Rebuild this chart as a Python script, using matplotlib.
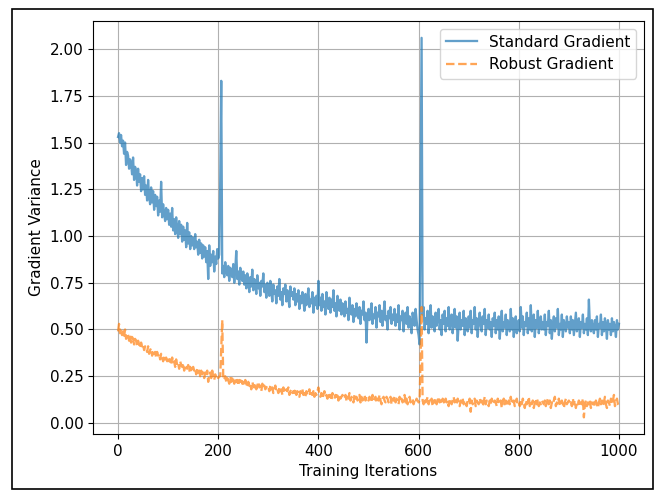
import matplotlib
matplotlib.use("Agg")
import matplotlib.pyplot as plt
from matplotlib.patches import Rectangle

plt.rcParams['font.size'] = 11
plt.rcParams['lines.linewidth'] = 1.65

# Iterations sampled every 2 steps, 0..1000
iterations = list(range(0, 1001, 2))

standard_grad = [
    1.53, 1.55, 1.50, 1.54, 1.48, 1.51, 1.44, 1.50, 1.38, 1.45, 1.43, 1.36, 1.41, 1.39, 1.33, 1.42, 1.30, 1.37, 1.35, 1.27, 1.36, 1.29, 1.33, 1.24, 1.31,
    1.25, 1.32, 1.22, 1.27, 1.19, 1.30, 1.21, 1.17, 1.26, 1.18, 1.24, 1.14, 1.22, 1.16, 1.21, 1.11, 1.19, 1.13, 1.29, 1.10, 1.17, 1.12, 1.08, 1.15, 1.09,
    1.14, 1.06, 1.12, 1.05, 1.15, 1.03, 1.09, 1.01, 1.10, 1.04, 0.99, 1.08, 1.01, 1.06, 0.97, 1.05, 0.98, 1.03, 0.94, 1.07, 0.96, 1.02, 0.93, 1.00, 0.95,
    0.99, 0.93, 1.01, 0.94, 0.97, 0.90, 0.98, 0.91, 0.96, 0.88, 0.95, 0.89, 0.94, 0.86, 0.92, 0.77, 0.95, 0.84, 0.90, 0.86, 0.92, 0.81, 0.89, 0.85, 0.93,
    0.88, 0.90, 1.30, 1.83, 0.80, 0.84, 0.78, 0.86, 0.81, 0.79, 0.84, 0.76, 0.83, 0.80, 0.78, 0.85, 0.75, 0.82, 0.92, 0.77, 0.81, 0.74, 0.83, 0.78, 0.76,
    0.81, 0.74, 0.79, 0.72, 0.80, 0.76, 0.70, 0.78, 0.73, 0.82, 0.71, 0.77, 0.74, 0.69, 0.79, 0.72, 0.75, 0.68, 0.76, 0.73, 0.80, 0.70, 0.74, 0.67, 0.75,
    0.73, 0.68, 0.76, 0.70, 0.65, 0.74, 0.69, 0.71, 0.64, 0.73, 0.68, 0.77, 0.66, 0.70, 0.63, 0.72, 0.69, 0.74, 0.65, 0.71, 0.67, 0.62, 0.73, 0.68, 0.70,
    0.66, 0.72, 0.63, 0.69, 0.65, 0.71, 0.61, 0.68, 0.64, 0.70, 0.66, 0.60, 0.69, 0.63, 0.67, 0.72, 0.62, 0.66, 0.64, 0.70, 0.59, 0.67, 0.63, 0.68, 0.61,
    0.76, 0.63, 0.67, 0.60, 0.69, 0.62, 0.65, 0.58, 0.70, 0.64, 0.61, 0.67, 0.59, 0.66, 0.62, 0.71, 0.60, 0.64, 0.57, 0.68, 0.63, 0.60, 0.66, 0.58, 0.64,
    0.62, 0.57, 0.65, 0.59, 0.61, 0.55, 0.67, 0.60, 0.58, 0.63, 0.54, 0.61, 0.57, 0.64, 0.59, 0.56, 0.62, 0.53, 0.60, 0.58, 0.65, 0.55, 0.59, 0.43, 0.57,
    0.61, 0.55, 0.59, 0.64, 0.53, 0.58, 0.56, 0.62, 0.51, 0.59, 0.57, 0.63, 0.54, 0.60, 0.52, 0.58, 0.65, 0.55, 0.57, 0.50, 0.60, 0.56, 0.62, 0.53, 0.58,
    0.55, 0.61, 0.52, 0.58, 0.54, 0.63, 0.50, 0.57, 0.55, 0.60, 0.49, 0.56, 0.59, 0.53, 0.62, 0.51, 0.57, 0.54, 0.48, 0.59, 0.56, 0.52, 0.61, 0.55, 0.50,
    0.47, 0.42, 1.20, 2.06, 0.58, 0.62, 0.50, 0.56, 0.53, 0.60, 0.48, 0.55, 0.63, 0.51, 0.57, 0.54, 0.49, 0.59, 0.52, 0.56, 0.61, 0.50, 0.55, 0.47, 0.58,
    0.53, 0.60, 0.49, 0.56, 0.52, 0.62, 0.50, 0.55, 0.58, 0.48, 0.54, 0.61, 0.51, 0.57, 0.44, 0.53, 0.59, 0.50, 0.55, 0.52, 0.60, 0.47, 0.56, 0.53, 0.49,
    0.57, 0.51, 0.60, 0.48, 0.55, 0.53, 0.62, 0.50, 0.56, 0.46, 0.54, 0.59, 0.52, 0.49, 0.57, 0.53, 0.61, 0.47, 0.55, 0.51, 0.58, 0.50, 0.54, 0.46, 0.56,
    0.52, 0.59, 0.48, 0.55, 0.50, 0.57, 0.45, 0.53, 0.60, 0.49, 0.54, 0.51, 0.58, 0.47, 0.55, 0.52, 0.49, 0.61, 0.50, 0.56, 0.46, 0.53, 0.57, 0.48, 0.52,
    0.55, 0.49, 0.62, 0.51, 0.57, 0.47, 0.54, 0.52, 0.59, 0.48, 0.56, 0.50, 0.63, 0.49, 0.53, 0.58, 0.46, 0.55, 0.51, 0.60, 0.48, 0.53, 0.57, 0.50, 0.54,
    0.50, 0.58, 0.47, 0.54, 0.52, 0.60, 0.48, 0.55, 0.45, 0.53, 0.57, 0.49, 0.56, 0.51, 0.61, 0.47, 0.53, 0.50, 0.58, 0.46, 0.55, 0.52, 0.49, 0.57, 0.51,
    0.54, 0.48, 0.57, 0.50, 0.55, 0.47, 0.53, 0.59, 0.49, 0.52, 0.56, 0.46, 0.54, 0.51, 0.58, 0.48, 0.53, 0.50, 0.56, 0.47, 0.66, 0.52, 0.49, 0.55, 0.51,
    0.48, 0.55, 0.50, 0.57, 0.46, 0.53, 0.51, 0.58, 0.47, 0.54, 0.49, 0.56, 0.52, 0.45, 0.55, 0.50, 0.53, 0.47, 0.56, 0.49, 0.54, 0.51, 0.46, 0.55, 0.50,
    0.53,
]

robust_grad = [
    0.49, 0.53, 0.48, 0.50, 0.47, 0.49, 0.46, 0.50, 0.45, 0.48, 0.47, 0.44, 0.47, 0.43, 0.46, 0.45, 0.42, 0.45, 0.44, 0.41, 0.44, 0.42, 0.40, 0.43, 0.41,
    0.42, 0.39, 0.41, 0.40, 0.38, 0.41, 0.37, 0.39, 0.40, 0.36, 0.39, 0.37, 0.38, 0.35, 0.38, 0.36, 0.37, 0.34, 0.37, 0.35, 0.33, 0.36, 0.34, 0.35, 0.33,
    0.35, 0.33, 0.34, 0.31, 0.35, 0.32, 0.33, 0.30, 0.34, 0.31, 0.32, 0.29, 0.33, 0.31, 0.30, 0.32, 0.28, 0.31, 0.30, 0.29, 0.31, 0.28, 0.30, 0.27, 0.29,
    0.30, 0.28, 0.29, 0.26, 0.29, 0.27, 0.28, 0.25, 0.28, 0.26, 0.27, 0.24, 0.27, 0.25, 0.28, 0.22, 0.26, 0.27, 0.24, 0.28, 0.25, 0.23, 0.26, 0.24, 0.25,
    0.24, 0.25, 0.25, 0.40, 0.55, 0.24, 0.23, 0.25, 0.22, 0.24, 0.23, 0.21, 0.24, 0.22, 0.25, 0.23, 0.21, 0.24, 0.22, 0.23, 0.20, 0.23, 0.22, 0.24, 0.21,
    0.22, 0.20, 0.23, 0.21, 0.19, 0.22, 0.20, 0.21, 0.18, 0.22, 0.20, 0.19, 0.21, 0.18, 0.20, 0.22, 0.19, 0.20, 0.17, 0.21, 0.19, 0.20, 0.18, 0.19, 0.20,
    0.19, 0.17, 0.20, 0.18, 0.19, 0.16, 0.18, 0.20, 0.17, 0.18, 0.16, 0.19, 0.17, 0.18, 0.15, 0.19, 0.17, 0.16, 0.18, 0.17, 0.19, 0.15, 0.17, 0.18, 0.16,
    0.17, 0.16, 0.18, 0.15, 0.17, 0.16, 0.14, 0.17, 0.16, 0.18, 0.15, 0.16, 0.14, 0.17, 0.15, 0.16, 0.18, 0.14, 0.16, 0.15, 0.17, 0.14, 0.16, 0.15, 0.17,
    0.19, 0.15, 0.14, 0.16, 0.13, 0.15, 0.17, 0.14, 0.15, 0.13, 0.16, 0.14, 0.15, 0.12, 0.16, 0.14, 0.13, 0.15, 0.14, 0.16, 0.12, 0.15, 0.13, 0.14, 0.15,
    0.14, 0.13, 0.15, 0.12, 0.14, 0.13, 0.16, 0.12, 0.14, 0.13, 0.11, 0.15, 0.13, 0.14, 0.12, 0.13, 0.15, 0.11, 0.14, 0.12, 0.13, 0.15, 0.12, 0.14, 0.13,
    0.12, 0.14, 0.13, 0.11, 0.15, 0.12, 0.13, 0.14, 0.11, 0.13, 0.12, 0.15, 0.12, 0.10, 0.13, 0.14, 0.12, 0.11, 0.14, 0.13, 0.11, 0.12, 0.14, 0.10, 0.13,
    0.12, 0.14, 0.11, 0.13, 0.12, 0.10, 0.14, 0.12, 0.13, 0.11, 0.12, 0.15, 0.11, 0.13, 0.10, 0.12, 0.14, 0.11, 0.12, 0.13, 0.10, 0.12, 0.11, 0.13, 0.12,
    0.11, 0.12, 0.35, 0.62, 0.12, 0.10, 0.13, 0.11, 0.12, 0.14, 0.10, 0.12, 0.11, 0.13, 0.09, 0.12, 0.11, 0.13, 0.10, 0.12, 0.14, 0.11, 0.12, 0.10, 0.13,
    0.12, 0.10, 0.13, 0.11, 0.12, 0.09, 0.13, 0.11, 0.10, 0.12, 0.14, 0.11, 0.12, 0.10, 0.13, 0.11, 0.09, 0.12, 0.11, 0.13, 0.10, 0.12, 0.11, 0.09, 0.12,
    0.11, 0.13, 0.06, 0.12, 0.10, 0.11, 0.13, 0.09, 0.12, 0.11, 0.10, 0.13, 0.11, 0.12, 0.09, 0.11, 0.14, 0.10, 0.12, 0.11, 0.09, 0.12, 0.10, 0.13, 0.11,
    0.10, 0.12, 0.11, 0.09, 0.13, 0.11, 0.10, 0.12, 0.08, 0.11, 0.13, 0.10, 0.12, 0.11, 0.09, 0.12, 0.10, 0.14, 0.11, 0.10, 0.12, 0.09, 0.11, 0.13, 0.10,
    0.11, 0.09, 0.12, 0.10, 0.13, 0.11, 0.08, 0.12, 0.10, 0.11, 0.14, 0.09, 0.11, 0.10, 0.12, 0.08, 0.11, 0.13, 0.10, 0.12, 0.09, 0.11, 0.10, 0.12, 0.11,
    0.10, 0.12, 0.09, 0.11, 0.13, 0.10, 0.12, 0.08, 0.11, 0.10, 0.12, 0.14, 0.09, 0.11, 0.10, 0.13, 0.09, 0.11, 0.12, 0.10, 0.08, 0.11, 0.13, 0.10, 0.11,
    0.12, 0.10, 0.11, 0.09, 0.13, 0.10, 0.12, 0.08, 0.11, 0.10, 0.12, 0.09, 0.11, 0.10, 0.13, 0.03, 0.10, 0.12, 0.09, 0.11, 0.10, 0.12, 0.08, 0.11, 0.10,
    0.11, 0.09, 0.12, 0.10, 0.08, 0.11, 0.13, 0.10, 0.12, 0.09, 0.11, 0.14, 0.10, 0.08, 0.12, 0.11, 0.09, 0.13, 0.10, 0.12, 0.15, 0.09, 0.11, 0.13, 0.10,
    0.09,
]

assert len(standard_grad) == len(iterations) == len(robust_grad)

fig = plt.figure(figsize=(6.62, 4.91), dpi=100)
ax = fig.add_axes([0.1405, 0.1161, 0.8323, 0.8411])

ax.plot(iterations, standard_grad, label='Standard Gradient', alpha=0.7)
ax.plot(iterations, robust_grad, '--', label='Robust Gradient', alpha=0.7)

ax.set_ylim(-0.059, 2.15)
ax.set_xlabel('Training Iterations')
ax.set_ylabel('Gradient Variance')
ax.grid(True)
ax.legend(loc='upper right')

# thin black frame around the whole figure
fig.patches.append(Rectangle((0.018, 0.004), 0.969, 0.978, transform=fig.transFigure,
                             fill=False, edgecolor='black', linewidth=1.2))

fig.savefig('out.png', dpi=100)
